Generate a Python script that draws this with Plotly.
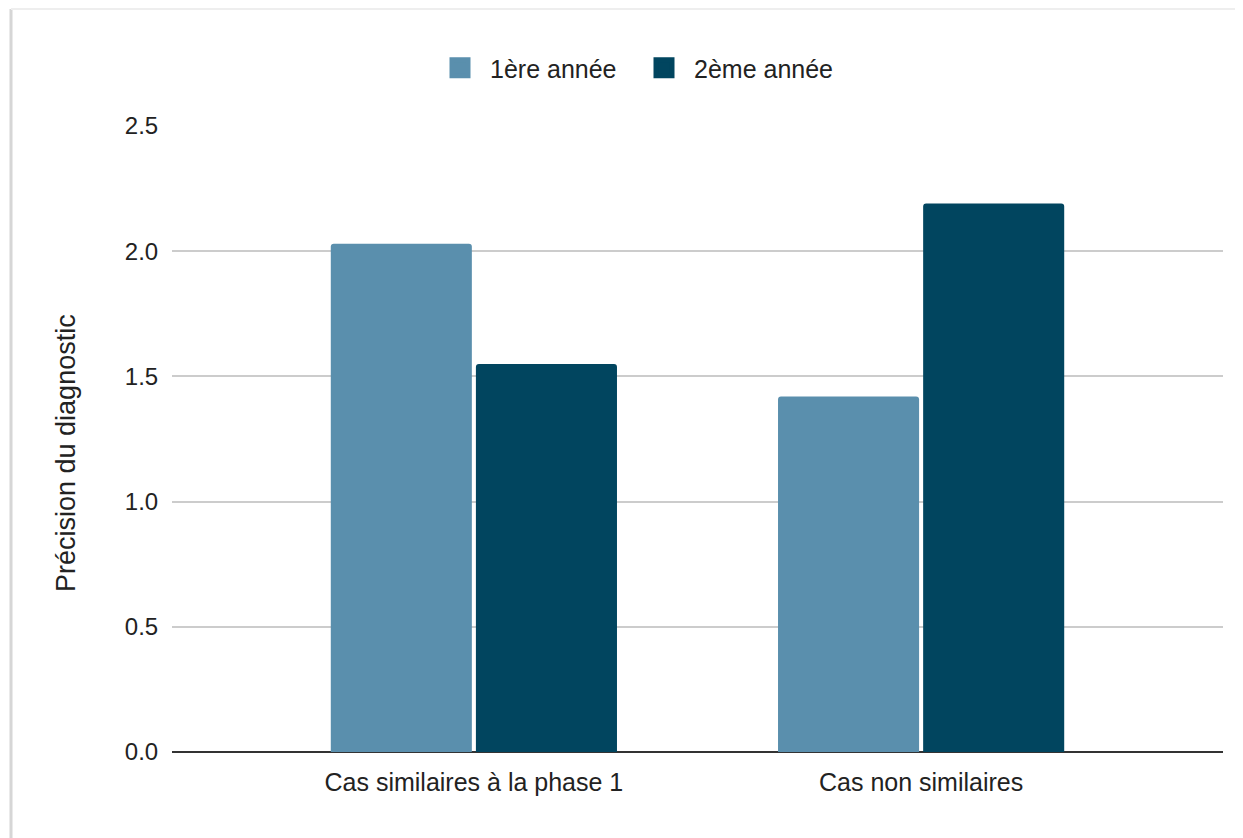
import plotly.graph_objects as go

categories = ["Cas similaires à la phase 1", "Cas non similaires"]
series_names = ["1ère année", "2ème année"]
values_y1 = [2.03, 1.42]
values_y2 = [1.55, 2.19]
colors = ["#5a8fad", "#01455f"]
y_ticks = [0.0, 0.5, 1.0, 1.5, 2.0, 2.5]
y_title = "Précision du diagnostic"

# page has an 8px body margin; figure sized so the plot lands where the reference is
OFF = 8
W, H = 1243 - OFF, 838 - OFF
ML, MR, MT, MB = 172 - OFF, 20, 126 - OFF, 838 - 752
PW, PH = W - ML - MR, H - MT - MB

def px_x(p):
    return (p - OFF - ML) / PW

def px_y(p):
    return (H - MB - (p - OFF)) / PH

fig = go.Figure()
for name, vals, col in zip(series_names, [values_y1, values_y2], colors):
    fig.add_trace(go.Bar(
        x=categories, y=vals, name=name, showlegend=False,
        marker=dict(color=col, cornerradius=3, line=dict(width=0)),
    ))
# legend entries with larger square swatches
for name, col in zip(series_names, colors):
    fig.add_trace(go.Scatter(
        x=[None], y=[None], name=name, mode="markers",
        marker=dict(symbol="square", size=25, color=col,
                    line=dict(color=col, width=9)),
    ))

font_family = "Liberation Sans, Arial, sans-serif"
fig.update_layout(
    width=W, height=H,
    margin=dict(l=ML, r=MR, t=MT, b=MB, pad=0),
    paper_bgcolor="white", plot_bgcolor="white",
    font=dict(family=font_family, size=24, color="#222222"),
    barmode="group", bargap=0.351, bargroupgap=0.028,
    legend=dict(orientation="h", x=px_x(430), xanchor="left",
                y=px_y(68), yanchor="middle", itemsizing="trace",
                font=dict(size=25, color="#222222"),
                itemwidth=50, entrywidth=139, entrywidthmode="pixels",
                tracegroupgap=0),
    xaxis=dict(range=[-0.675, 1.675], showgrid=False, showline=False,
               zeroline=False, ticks="outside", ticklen=8, tickcolor="white",
               tickfont=dict(size=25, color="#222222")),
    yaxis=dict(range=[0, 2.5], tickvals=y_ticks, tickformat=".1f",
               showgrid=True, gridcolor="#cccccc", gridwidth=2,
               zeroline=True, zerolinecolor="#333333", zerolinewidth=2,
               showline=False, ticks="outside", ticklen=8, tickcolor="white",
               tickfont=dict(size=24, color="#222222")),
    annotations=[
        dict(text=y_title, xref="paper", yref="paper",
             x=px_x(66), y=px_y(453), xanchor="center", yanchor="middle",
             textangle=-90, showarrow=False,
             font=dict(size=27, color="#222222")),
    ],
    shapes=[
        dict(type="line", xref="paper", yref="paper",
             x0=px_x(11), x1=px_x(11), y0=px_y(9), y1=px_y(850),
             line=dict(color="#d6d6d6", width=3)),
        dict(type="line", xref="paper", yref="paper",
             x0=px_x(11), x1=px_x(1250), y0=px_y(9), y1=px_y(9),
             line=dict(color="#eeeeee", width=2)),
    ],
)

fig.write_html("out.html")
